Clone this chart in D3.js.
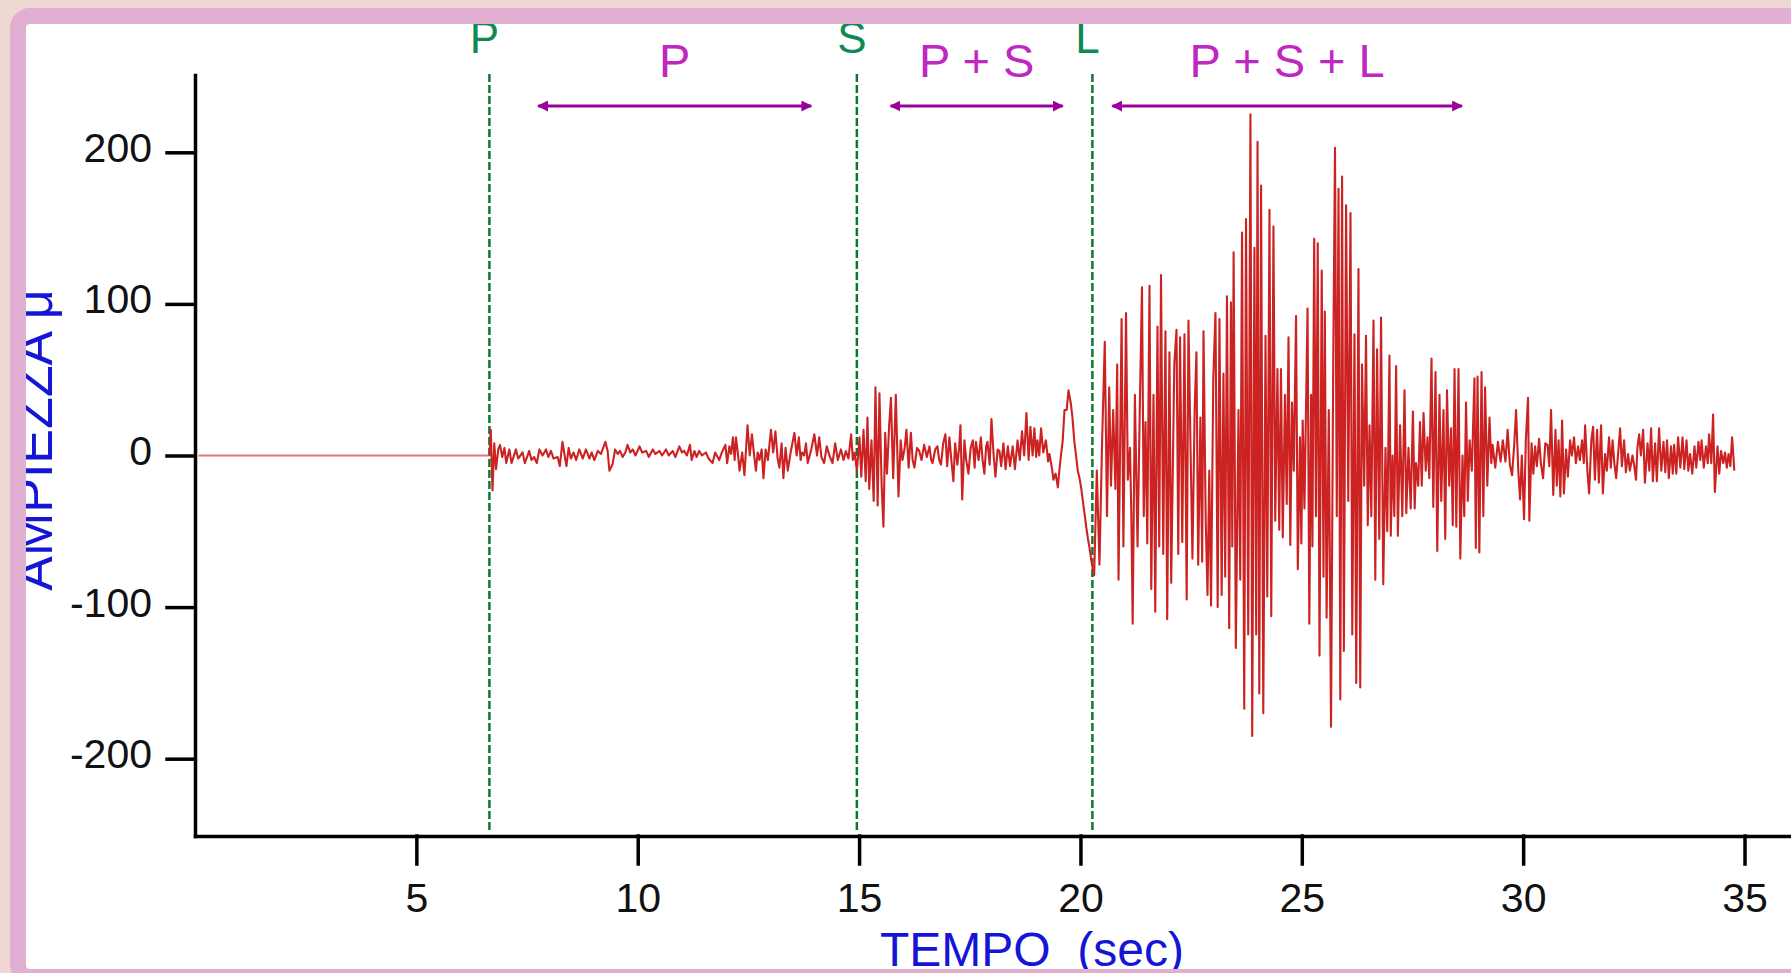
<!DOCTYPE html>
<html>
<head>
<meta charset="utf-8">
<script src="https://cdn.jsdelivr.net/npm/d3@7"></script>
<style>
  html, body { margin: 0; padding: 0; background: #efd8d3; overflow: hidden; }
  svg { display: block; }
</style>
</head>
<body>
<svg id="chart"></svg>
<script>
// -------- Data (time in sec, amplitude in μ) --------
const xTicks = [5, 10, 15, 20, 25, 30, 35];
const yTicks = [-200, -100, 0, 100, 200];

// arrival of each phase (green dashed markers)
const markers = [
  { label: 'P', t: 6.65 },
  { label: 'S', t: 14.95 },
  { label: 'L', t: 20.27 }
];

// which waves are recorded in each stretch (magenta arrows)
const spans = [
  { label: 'P',         from: 7.75,  to: 13.92 },
  { label: 'P + S',     from: 15.71, to: 19.6 },
  { label: 'P + S + L', from: 20.72, to: 28.62 }
];

const preEvent = [[0.08, 0], [6.65, 0]];

const pWaves = [
  [6.65,0],[6.68,17],[6.72,-23],[6.76,8],[6.80,-9],[6.85,4],[6.89,7],[6.94,-1],[6.99,5],[7.03,-5],
  [7.10,4],[7.15,-5],[7.25,4],[7.30,-2],[7.40,2],[7.45,-5],[7.55,3],[7.60,-3],[7.66,-1],[7.72,-5],
  [7.78,4],[7.85,0],[7.93,4],[7.98,-1],[8.04,3],[8.10,-2],[8.19,-1],[8.24,-7],[8.30,9],[8.35,0],
  [8.39,-7],[8.44,5],[8.49,-2],[8.55,2],[8.61,-3],[8.68,4],[8.76,-2],[8.83,4],[8.91,-2],[8.96,2],
  [9.02,-3],[9.10,3],[9.17,1],[9.27,9],[9.32,3],[9.36,-10],[9.43,-6],[9.49,4],[9.55,1],[9.60,3],
  [9.66,-1],[9.72,2],[9.77,7],[9.83,2],[9.89,4],[9.95,0],[10.04,6],[10.10,2],[10.19,3],[10.25,-1],
  [10.34,4],[10.40,1],[10.49,3],[10.55,0],[10.64,4],[10.70,0],[10.79,3],[10.85,-1],[10.94,6],[11.00,2],
  [11.05,3],[11.11,0],[11.18,7],[11.22,-3],[11.28,3],[11.33,-1],[11.39,3],[11.45,0],[11.54,2],[11.60,-2],
  [11.69,-5],[11.75,2],[11.84,-3],[11.90,2],[11.98,7],[12.02,-5],[12.07,6],[12.11,1],[12.15,12],[12.19,-3],
  [12.22,12],[12.26,2],[12.30,-10],[12.36,2],[12.41,-13],[12.48,20],[12.53,0],[12.58,14],[12.63,0],[12.67,-10],
  [12.71,2],[12.75,-3],[12.80,4],[12.84,-15],[12.89,4],[12.94,-3],[13.01,17],[13.06,2],[13.11,16],[13.16,-2],
  [13.20,-8],[13.25,8],[13.29,-15],[13.34,5],[13.39,-10],[13.46,3],[13.54,15],[13.59,0],[13.64,12],[13.68,-3],
  [13.71,2],[13.76,0],[13.80,8],[13.84,-5]
];

const sWaves = [
  [13.92,4],[13.99,14],[14.05,0],[14.10,12],[14.15,-1],[14.21,-5],[14.27,6],[14.33,0],[14.40,-5],[14.46,8],
  [14.52,-3],[14.59,4],[14.65,-3],[14.70,3],[14.76,-2],[14.82,14],[14.86,-3],[14.90,2],[14.95,-10],[15.01,12],
  [15.05,-14],[15.10,17],[15.15,-17],[15.19,25],[15.23,-22],[15.28,10],[15.33,-30],[15.37,45],[15.42,-33],[15.46,41],
  [15.51,-20],[15.55,-47],[15.59,15],[15.63,-12],[15.68,20],[15.72,38],[15.77,-15],[15.83,40],[15.89,-27],[15.94,10],
  [15.98,-3],[16.03,5],[16.07,17],[16.12,-8],[16.17,15],[16.21,-3],[16.25,-8],[16.31,5],[16.36,3],[16.41,-3],
  [16.47,7],[16.53,-1],[16.59,6],[16.63,-3],[16.66,-5],[16.72,4],[16.77,6],[16.81,-3],[16.85,-6],[16.90,8],
  [16.95,14],[16.99,-7],[17.04,12],[17.09,-5],[17.13,-17],[17.17,8],[17.22,-6],[17.26,5],[17.29,20],[17.33,-29],
  [17.38,10],[17.42,-3],[17.47,-12],[17.52,5],[17.57,10],[17.61,-8],[17.64,9],[17.70,-3],[17.75,12],[17.79,-3],
  [17.83,-12],[17.87,6],[17.90,9],[17.95,-6],[17.99,24],[18.04,0],[18.08,-14],[18.13,4],[18.17,3],[18.21,-7],
  [18.26,8],[18.31,-9],[18.36,6],[18.41,-7],[18.47,6],[18.52,-9],[18.58,10],[18.63,-3],[18.68,16],[18.73,0],
  [18.78,28],[18.83,-3],[18.87,19],[18.92,0],[18.96,18],[19.00,-1],[19.03,10],[19.07,0],[19.11,18],[19.16,2],
  [19.22,10],[19.27,-4],[19.30,1],[19.36,-9],[19.39,-16],[19.44,-12],[19.49,-21],[19.53,-8],[19.56,0],[19.60,10],
  [19.64,30],[19.69,30],[19.73,43],[19.78,35],[19.82,25],[19.86,10],[19.90,0],[19.94,-10],[19.98,-15],[20.02,-22],
  [20.05,-29],[20.10,-40],[20.13,-47],[20.17,-55],[20.20,-60],[20.25,-70],[20.31,-79]
];

const lWaves = [
  [20.37,-10],[20.43,-72],[20.49,10],[20.55,75],[20.60,-40],[20.65,45],[20.69,-20],[20.74,30],[20.79,-22],[20.83,60],
  [20.86,-82],[20.93,90],[20.97,-60],[21.03,94],[21.07,-16],[21.12,5],[21.15,-40],[21.18,-111],[21.23,40],[21.29,-60],
  [21.34,30],[21.39,111],[21.43,-40],[21.47,22],[21.51,-58],[21.56,112],[21.60,-88],[21.65,40],[21.69,-103],[21.74,85],
  [21.78,-60],[21.82,119],[21.87,-65],[21.92,82],[21.96,-108],[22.01,68],[22.05,-84],[22.12,60],[22.17,83],[22.21,-65],
  [22.25,78],[22.30,-57],[22.35,80],[22.40,-95],[22.44,89],[22.49,0],[22.53,-68],[22.58,30],[22.62,68],[22.66,-72],
  [22.71,25],[22.75,-70],[22.78,82],[22.83,-43],[22.87,-92],[22.91,-10],[22.95,-99],[23.00,50],[23.05,94],[23.10,-100],
  [23.14,90],[23.19,-92],[23.23,54],[23.27,-80],[23.31,105],[23.36,-114],[23.40,101],[23.43,-60],[23.46,134],[23.51,-127],
  [23.57,30],[23.61,-82],[23.65,147],[23.70,-167],[23.74,156],[23.79,-118],[23.84,225],[23.88,-185],[23.93,137],[23.97,-118],
  [24.00,207],[24.04,-157],[24.08,178],[24.13,-170],[24.18,79],[24.22,-93],[24.27,162],[24.31,-106],[24.36,151],[24.40,-43],
  [24.45,57],[24.49,-49],[24.53,57],[24.57,-54],[24.62,40],[24.66,-32],[24.70,78],[24.74,-59],[24.78,35],[24.82,-10],
  [24.87,92],[24.91,-75],[24.96,12],[24.99,-58],[25.02,23],[25.06,-35],[25.13,97],[25.17,-111]
];

const lDecay = [
  [25.21,40],[25.24,-60],[25.28,143],[25.32,-40],[25.36,140],[25.40,-132],[25.45,122],[25.49,-80],[25.52,95],[25.56,-107],
  [25.61,30],[25.66,-179],[25.71,60],[25.75,203],[25.79,-40],[25.83,176],[25.87,-161],[25.91,184],[25.95,-129],[26.00,165],
  [26.05,-30],[26.10,160],[26.14,-118],[26.19,80],[26.23,-150],[26.28,123],[26.32,-153],[26.36,60],[26.41,-20],[26.45,79],
  [26.49,-46],[26.53,20],[26.57,-40],[26.62,89],[26.66,-82],[26.70,70],[26.75,-55],[26.79,91],[26.84,-85],[26.89,5],
  [26.93,-50],[26.98,66],[27.01,-53],[27.05,0],[27.09,-40],[27.13,59],[27.17,-53],[27.22,20],[27.27,-40],[27.32,43],
  [27.36,-38],[27.41,5],[27.46,-35],[27.51,29],[27.55,-35],[27.58,-5],[27.63,-20],[27.67,22],[27.71,-20],[27.75,28],
  [27.80,-10],[27.84,12],[27.88,-15],[27.93,64],[27.97,-34],[28.02,55],[28.06,-63],[28.11,40],[28.15,-30],[28.20,30],
  [28.24,-55],[28.28,43],[28.33,-20],[28.37,18],[28.41,-46],[28.45,57],[28.49,-47],[28.54,57],[28.58,-68],[28.63,0],
  [28.67,-40],[28.71,35],[28.75,-30],[28.79,10],[28.84,-10],[28.90,51],[28.93,-61],[28.97,52],[29.01,-64],[29.06,55],
  [29.10,-40],[29.14,45],[29.19,-20],[29.24,25],[29.28,-5],[29.31,7],[29.37,-8],[29.43,9],[29.49,-4],[29.54,10],
  [29.60,-4]
];

const coda = [
  [29.65,17],[29.70,-6],[29.75,-13],[29.80,8],[29.84,30],[29.89,-10],[29.93,-29],[29.97,0],[30.02,-42],[30.06,10],
  [30.11,38],[30.14,-43],[30.19,8],[30.23,-12],[30.27,6],[30.31,-7],[30.36,11],[30.40,-5],[30.45,-15],[30.50,8],
  [30.55,7],[30.59,-7],[30.63,30],[30.68,-26],[30.73,17],[30.76,-20],[30.80,10],[30.84,-27],[30.88,23],[30.92,-25],
  [30.97,4],[31.01,-14],[31.06,10],[31.10,0],[31.15,12],[31.19,-5],[31.24,6],[31.28,-3],[31.33,10],[31.37,-5],
  [31.40,20],[31.45,-10],[31.49,-25],[31.54,10],[31.58,19],[31.62,-16],[31.67,17],[31.71,-18],[31.76,20],[31.80,-25],
  [31.85,1],[31.89,-10],[31.94,12],[31.98,-8],[32.02,10],[32.06,-5],[32.10,-15],[32.15,3],[32.19,18],[32.23,-7],
  [32.28,10],[32.32,-11],[32.37,1],[32.41,-10],[32.47,0],[32.51,-7],[32.55,-16],[32.58,5],[32.62,14],[32.66,0],
  [32.71,17],[32.75,-18],[32.81,8],[32.85,-10],[32.89,18],[32.93,-17],[32.98,8],[33.02,-17],[33.07,18],[33.12,-10],
  [33.17,9],[33.21,-11],[33.25,10],[33.29,-15],[33.34,6],[33.38,-12],[33.41,7],[33.46,-12],[33.50,12],[33.55,-8],
  [33.60,12],[33.64,-9],[33.69,10],[33.73,-10],[33.77,1],[33.82,-12],[33.87,6],[33.91,-8],[33.96,9],[34.00,-3],
  [34.03,10],[34.08,-8],[34.13,6],[34.17,-5],[34.20,14],[34.25,-5],[34.29,27],[34.33,-24],[34.39,6],[34.43,-12],
  [34.47,3],[34.52,-5],[34.56,2],[34.60,-8],[34.64,1],[34.68,-7],[34.72,12],[34.77,-10]
];

// -------- Dimensions --------
const width = 1791, height = 973;
const font = '"Liberation Sans", Arial, sans-serif';

const x = d3.scaleLinear().domain([0, 36.05]).range([195, 1791]);
const y = d3.scaleLinear().domain([-251, 251]).range([836, 75]);

// -------- Canvas --------
const svg = d3.select('#chart')
  .attr('width', width)
  .attr('height', height)
  .attr('font-family', font);

svg.append('rect')
  .attr('width', width).attr('height', height)
  .attr('fill', '#efd8d3');

// white panel (its pink frame is drawn last, over the clipped labels)
svg.append('rect')
  .attr('x', 18).attr('y', 16)
  .attr('width', 1800).attr('height', 961)
  .attr('rx', 12)
  .attr('fill', '#ffffff');

const defs = svg.append('defs');
defs.append('marker')
  .attr('id', 'arrow')
  .attr('viewBox', '0 0 10 10')
  .attr('refX', 9).attr('refY', 5)
  .attr('markerUnits', 'userSpaceOnUse')
  .attr('markerWidth', 11).attr('markerHeight', 11)
  .attr('orient', 'auto-start-reverse')
  .append('path')
    .attr('d', 'M0,0 L10,5 L0,10 z')
    .attr('fill', '#990099');

// -------- Phase markers --------
svg.append('g').selectAll('line')
  .data(markers)
  .join('line')
    .attr('x1', d => x(d.t)).attr('x2', d => x(d.t))
    .attr('y1', 74).attr('y2', 830)
    .attr('stroke', '#0a7a32')
    .attr('stroke-width', 2.5)
    .attr('stroke-dasharray', '8,3');

svg.append('g').selectAll('text')
  .data(markers)
  .join('text')
    .attr('x', d => x(d.t) - 5)
    .attr('y', 53)
    .attr('text-anchor', 'middle')
    .attr('font-size', 44)
    .attr('fill', '#108a55')
    .text(d => d.label);

// -------- Span arrows --------
const spanG = svg.append('g');
spanG.selectAll('line')
  .data(spans)
  .join('line')
    .attr('x1', d => x(d.from)).attr('x2', d => x(d.to))
    .attr('y1', 106).attr('y2', 106)
    .attr('stroke', '#990099')
    .attr('stroke-width', 3)
    .attr('marker-start', 'url(#arrow)')
    .attr('marker-end', 'url(#arrow)');

spanG.selectAll('text')
  .data(spans)
  .join('text')
    .attr('x', d => (x(d.from) + x(d.to)) / 2)
    .attr('y', 77)
    .attr('text-anchor', 'middle')
    .attr('font-size', 47)
    .attr('fill', '#c026c0')
    .text(d => d.label);

// -------- Axes --------
const plain = d => String(d);   // hyphen minus, as on the original plot

const xAxis = svg.append('g')
  .attr('transform', `translate(0,${y(-251)})`)
  .call(d3.axisBottom(x).tickValues(xTicks).tickFormat(plain).tickSize(28).tickSizeOuter(0));

const yAxis = svg.append('g')
  .attr('transform', `translate(${x(0)},0)`)
  .call(d3.axisLeft(y).tickValues(yTicks).tickFormat(plain).tickSize(28).tickSizeOuter(0).tickPadding(15));

[xAxis, yAxis].forEach(ax => {
  ax.attr('font-family', font).attr('font-size', 41);
  ax.selectAll('path, line')
    .attr('stroke', '#000')
    .attr('stroke-width', 3.5)
    .attr('stroke-linecap', 'square');
  ax.selectAll('text').attr('fill', '#111');
});
xAxis.selectAll('text').attr('y', 76).attr('dy', 0);
yAxis.selectAll('text').attr('dy', '0.22em');

// -------- Seismogram trace --------
const line = d3.line()
  .x(d => x(d[0]))
  .y(d => y(d[1]));

svg.append('path')
  .datum(preEvent)
  .attr('d', line)
  .attr('fill', 'none')
  .attr('stroke', '#e07878')
  .attr('stroke-width', 2);

svg.append('path')
  .datum([].concat(pWaves, sWaves, lWaves, lDecay, coda))
  .attr('d', line)
  .attr('fill', 'none')
  .attr('stroke', '#cc2222')
  .attr('stroke-width', 2.1)
  .attr('stroke-linejoin', 'round');

// -------- Axis titles --------
svg.append('text')
  .attr('transform', 'translate(52,440) rotate(-90)')
  .attr('text-anchor', 'middle')
  .attr('font-size', 52)
  .attr('fill', '#1515d5')
  .text('AMPIEZZA μ');

svg.append('text')
  .attr('x', 880)
  .attr('y', 966)
  .attr('font-size', 48)
  .attr('fill', '#1515d5')
  .style('white-space', 'pre')
  .text('TEMPO  (sec)');

// -------- Frame --------
svg.append('rect')
  .attr('x', 18).attr('y', 16)
  .attr('width', 1800).attr('height', 961)
  .attr('rx', 12)
  .attr('fill', 'none')
  .attr('stroke', '#e0afd1')
  .attr('stroke-width', 16);
</script>
</body>
</html>
